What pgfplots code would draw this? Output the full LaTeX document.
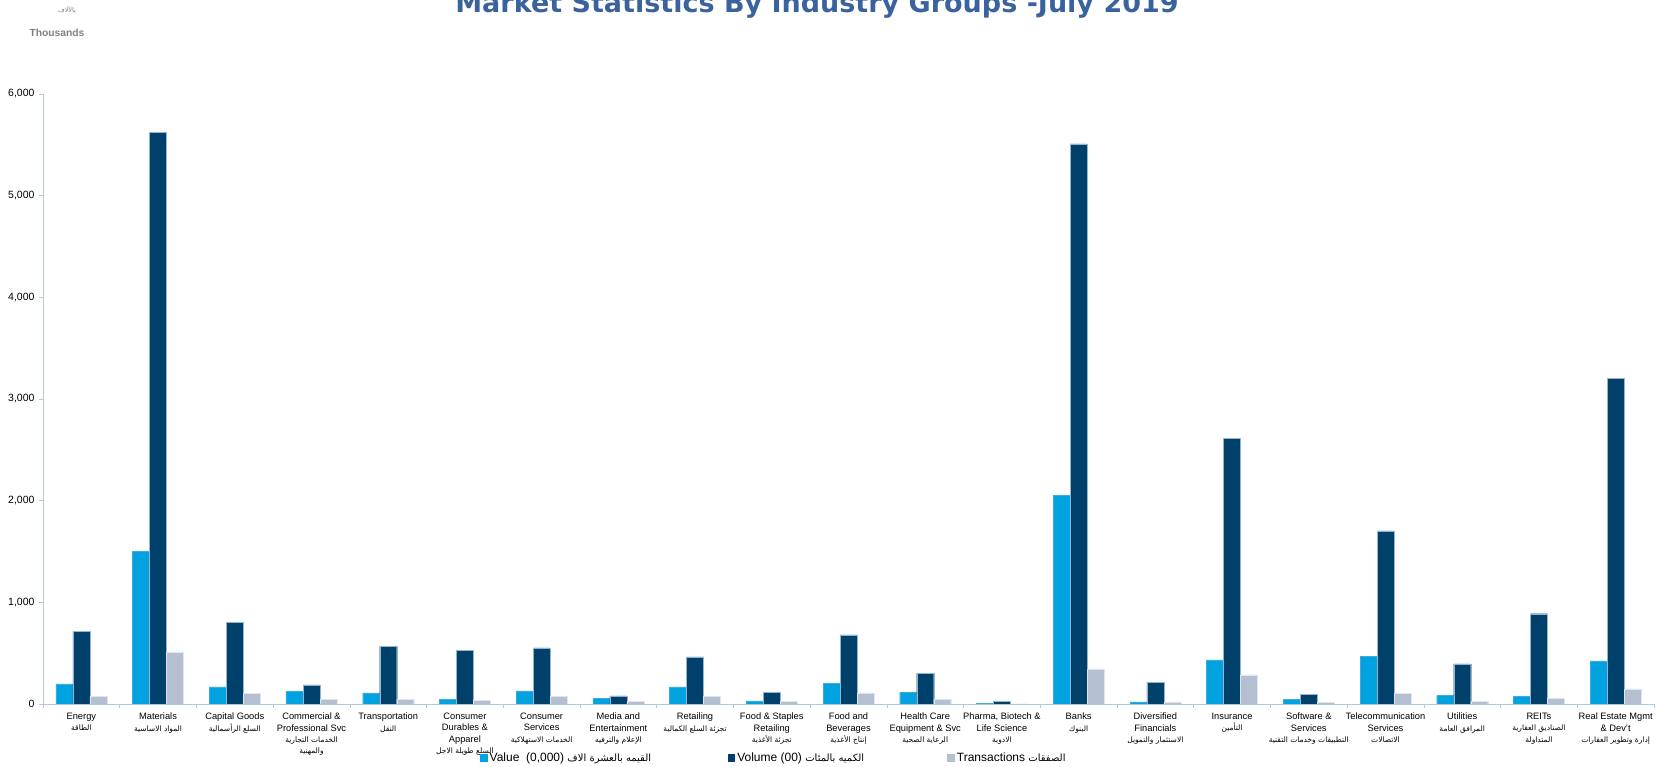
\documentclass[border=0pt]{standalone}
\usepackage{pgfplots}
\pgfplotsset{compat=1.18}
\usepackage{fontspec}
\setmainfont{Liberation Sans}
\newfontfamily\arabicfont[Script=Arabic]{DejaVu Sans}
\newfontfamily\titlefont{DejaVu Sans}
\TeXXeTstate=1
\newcommand{\ar}[1]{{\arabicfont\fontsize{7.5}{11.3}\selectfont #1}}
\newcommand{\arl}[1]{{\arabicfont\fontsize{10}{12}\selectfont #1}}
\definecolor{cval}{RGB}{0,163,224}
\definecolor{cvol}{RGB}{0,65,107}
\definecolor{ctra}{RGB}{180,192,210}
\definecolor{caxis}{RGB}{182,198,222}
\definecolor{ctitle}{RGB}{58,99,158}
\definecolor{cedge}{RGB}{150,180,210}

\pgfplotstableread{
x value volume trans
0 197 714 76
1 1500 5620 513
2 168 806 105
3 125 188 46
4 109 569 49
5 49 526 39
6 128 553 76
7 56 79 23
8 168 464 76
9 30 115 23
10 201 681 109
11 118 303 49
12 3 23 2
13 2053 5510 345
14 20 214 20
15 434 2614 286
16 49 95 13
17 467 1704 102
18 82 395 26
19 76 888 59
20 424 3206 148
}\data

\begin{document}
\begin{tikzpicture}
\begin{axis}[
  at={(0pt,0pt)}, anchor=south west,
  scale only axis,
  width=1611pt, height=610pt,
  xmin=-0.5, xmax=20.5,
  ymin=0, ymax=6000,
  axis lines=left,
  axis line style={caxis, line width=0.6pt, -},
  ybar=0pt,
  bar width=17pt,
  xtick={0,...,20},
  major x tick style={draw=none},
  minor xtick={-0.5,0.5,...,20.5},
  minor tick length=4pt,
  major tick length=4pt,
  tick align=outside,
  tick style={caxis, line width=0.6pt},
  ytick={0,1000,...,6000},
  /pgf/number format/assume math mode=true,
  /pgf/number format/1000 sep={,},
  yticklabel style={font=\fontsize{10.5}{12}\selectfont, xshift=-1pt},
  xticklabel style={font=\fontsize{9.3}{11.3}\selectfont, align=center, anchor=north, yshift=-1.5pt},
  xticklabels={
    {Energy\\\ar{\beginR الطاقة\endR}},
    {Materials\\\ar{\beginR المواد الاساسية\endR}},
    {Capital Goods\\\ar{\beginR السلع الرأسمالية\endR}},
    {Commercial \&\\Professional Svc\\\ar{\beginR الخدمات التجارية\endR}\\\ar{\beginR والمهنية\endR}},
    {Transportation\\\ar{\beginR النقل\endR}},
    {Consumer\\Durables \&\\Apparel\\\ar{\beginR السلع طويلة الاجل\endR}},
    {Consumer\\Services\\\ar{\beginR الخدمات الاستهلاكية\endR}},
    {Media and\\Entertainment\\\ar{\beginR الإعلام والترفيه\endR}},
    {Retailing\\\ar{\beginR تجزئة السلع الكمالية\endR}},
    {Food \& Staples\\Retailing\\\ar{\beginR تجزئة الأغذية\endR}},
    {Food and\\Beverages\\\ar{\beginR إنتاج الأغذية\endR}},
    {Health Care\\Equipment \& Svc\\\ar{\beginR الرعاية الصحية\endR}},
    {Pharma, Biotech \&\\Life Science\\\ar{\beginR الادوية\endR}},
    {Banks\\\ar{\beginR البنوك\endR}},
    {Diversified\\Financials\\\ar{\beginR الاستثمار والتمويل\endR}},
    {Insurance\\\ar{\beginR التأمين\endR}},
    {Software \&\\Services\\\ar{\beginR التطبيقات وخدمات التقنية\endR}},
    {Telecommunication\\Services\\\ar{\beginR الاتصالات\endR}},
    {Utilities\\\ar{\beginR المرافق العامة\endR}},
    {REITs\\\ar{\beginR الصناديق العقارية\endR}\\\ar{\beginR المتداولة\endR}},
    {Real Estate Mgmt\\\& Dev't\\\ar{\beginR إدارة وتطوير العقارات\endR}}
  },
  legend columns=3,
  legend style={at={(0.2713,-0.0885)}, anchor=west, draw=none, fill=none,
    inner sep=0pt, outer sep=0pt,
    font=\fontsize{12}{13}\selectfont,
    /tikz/every even column/.append style={column sep=0pt}},
  legend cell align=left,
  legend image code/.code={\fill[#1, draw=none] (0pt,-3.8pt) rectangle (7.6pt,3.8pt);},
]
\addplot[fill=cval, draw=cedge!40!cval, line width=0.4pt] table[x=x, y=value] {\data};
\addplot[fill=cvol, draw=cedge, line width=0.4pt] table[x=x, y=volume] {\data};
\addplot[fill=ctra, draw=white!60!ctra, line width=0.4pt] table[x=x, y=trans] {\data};
\legend{\makebox[236pt][l]{Value\ \ (0,000) \arl{\beginR القيمه بالعشرة الاف\endR}},
        \makebox[208pt][l]{Volume (00) \arl{\beginR الكميه بالمئات\endR}},
        {Transactions \arl{\beginR الصفقات\endR}}}
\end{axis}
\node[anchor=base, font=\titlefont\bfseries\fontsize{27}{32}\selectfont, text=ctitle] at (774pt,691.3pt) {Market Statistics By Industry Groups -July 2019};
\node[font=\arabicfont\fontsize{6.5}{8}\selectfont, text=gray] at (24pt,694pt) {\beginR بالآلاف\endR};
\node[font=\bfseries\fontsize{10.3}{12}\selectfont, text=black!50] at (14pt,671pt) {Thousands};
\pgfresetboundingbox
\useasboundingbox (-43pt,-63pt) rectangle (1613pt,704pt);
\end{tikzpicture}
\end{document}
